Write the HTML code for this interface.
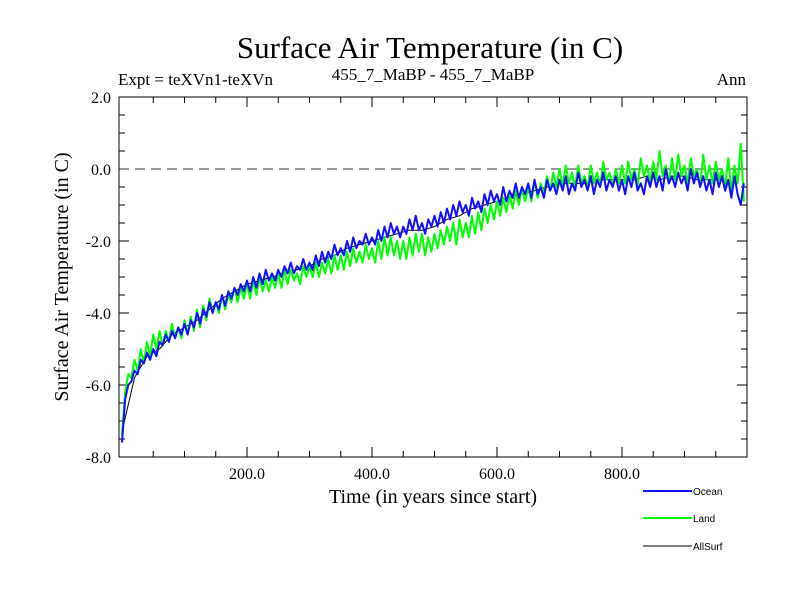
<!DOCTYPE html>
<html><head><meta charset="utf-8"><style>
body{margin:0;background:#fff}
svg{display:block}
.s{font-family:"Liberation Serif",serif;fill:#000}
.l{font-family:"Liberation Sans",sans-serif;font-size:10px;fill:#000}
</style></head><body>
<svg id="chart" width="800" height="600">
<text class="s" x="430" y="58" font-size="31" text-anchor="middle">Surface Air Temperature (in C)</text>
<text class="s" x="118" y="85" font-size="17">Expt = teXVn1-teXVn</text>
<text class="s" x="433" y="80" font-size="17" text-anchor="middle">455_7_MaBP - 455_7_MaBP</text>
<text class="s" x="746" y="85" font-size="17" text-anchor="end">Ann</text>
<text class="s" x="0" y="0" font-size="20" text-anchor="middle" transform="translate(68,277) rotate(-90)">Surface Air Temperature (in C)</text>
<text class="s" x="433" y="503" font-size="20" text-anchor="middle">Time (in years since start)</text>
<g id="ticks"></g>
<g id="plot"></g>
<rect x="119" y="97" width="628" height="360" fill="none" stroke="#000" stroke-width="1"/>
<g id="legend"></g>
</svg>
<script>
const yTicks=[2.0,0.0,-2.0,-4.0,-6.0,-8.0];
const xTicks=[200,400,600,800];
const ocean=[
-7.6,-6.4,-6.0,-5.9,-5.6,-5.7,-5.3,-5.4,-5.1,-5.3,
-5.0,-5.2,-4.8,-4.9,-4.6,-4.8,-4.5,-4.7,-4.4,-4.6,
-4.3,-4.6,-4.2,-4.4,-4.0,-4.3,-3.9,-4.1,-3.7,-4.0,
-3.7,-3.9,-3.5,-3.8,-3.4,-3.6,-3.3,-3.5,-3.2,-3.4,
-3.1,-3.4,-3.0,-3.3,-2.9,-3.2,-2.8,-3.1,-2.9,-3.1,
-2.8,-3.0,-2.7,-2.9,-2.6,-2.9,-2.7,-2.8,-2.5,-2.8,
-2.6,-2.8,-2.4,-2.7,-2.3,-2.6,-2.3,-2.5,-2.1,-2.4,
-2.2,-2.4,-2.0,-2.3,-1.9,-2.2,-2.0,-2.1,-1.8,-2.1,
-1.9,-2.1,-1.7,-2.0,-1.6,-1.9,-1.5,-1.8,-1.6,-1.9,
-1.6,-1.8,-1.4,-1.7,-1.3,-1.7,-1.5,-1.8,-1.4,-1.6,
-1.3,-1.6,-1.2,-1.5,-1.1,-1.4,-1.0,-1.3,-0.9,-1.2,
-1.0,-1.3,-0.8,-1.1,-0.9,-1.2,-0.7,-1.0,-0.6,-0.9,
-0.7,-1.0,-0.5,-0.9,-0.6,-0.8,-0.4,-0.8,-0.5,-0.7,
-0.4,-0.8,-0.3,-0.7,-0.5,-0.8,-0.3,-0.6,-0.4,-0.7,
-0.3,-0.6,-0.2,-0.7,-0.4,-0.6,-0.1,-0.5,-0.3,-0.6,
-0.2,-0.7,-0.3,-0.5,-0.1,-0.6,-0.3,-0.5,-0.2,-0.6,
-0.3,-0.7,-0.2,-0.5,-0.1,-0.6,-0.4,-0.7,-0.2,-0.5,
-0.1,-0.5,-0.2,-0.6,0.0,-0.4,-0.2,-0.5,-0.1,-0.4,
-0.2,-0.6,0.0,-0.4,-0.1,-0.5,-0.2,-0.6,-0.3,-0.7,
-0.1,-0.5,-0.2,-0.6,-0.3,-0.8,-0.2,-0.7,-1.0,-0.4];
const land=[
-7.4,-6.2,-5.7,-5.8,-5.3,-5.6,-5.0,-5.4,-4.8,-5.2,
-4.6,-5.0,-4.5,-4.9,-4.5,-4.8,-4.3,-4.7,-4.4,-4.7,
-4.2,-4.6,-4.1,-4.5,-3.9,-4.4,-3.8,-4.2,-3.6,-4.0,
-3.7,-4.0,-3.5,-3.9,-3.5,-3.7,-3.3,-3.7,-3.3,-3.6,
-3.2,-3.6,-3.1,-3.5,-3.0,-3.4,-3.1,-3.4,-3.0,-3.3,
-2.9,-3.3,-2.8,-3.2,-2.8,-3.1,-2.9,-3.2,-2.7,-3.0,
-2.7,-3.0,-2.6,-3.0,-2.6,-2.9,-2.5,-2.9,-2.4,-2.8,
-2.4,-2.8,-2.3,-2.7,-2.2,-2.6,-2.3,-2.6,-2.1,-2.5,
-2.2,-2.6,-2.0,-2.5,-1.9,-2.4,-1.9,-2.4,-2.0,-2.5,
-2.0,-2.5,-1.9,-2.4,-1.8,-2.3,-1.8,-2.4,-1.9,-2.3,
-1.8,-2.2,-1.7,-2.1,-1.6,-2.0,-1.5,-2.1,-1.4,-1.9,
-1.5,-1.9,-1.3,-1.8,-1.2,-1.7,-1.1,-1.5,-1.0,-1.4,
-0.9,-1.3,-0.8,-1.2,-0.7,-1.1,-0.6,-1.0,-0.5,-0.9,
-0.5,-0.9,-0.3,-0.8,-0.4,-0.7,-0.2,-0.6,-0.1,-0.5,
0.0,-0.5,0.1,-0.4,-0.1,-0.5,0.1,-0.4,-0.2,-0.5,
0.1,-0.4,-0.1,-0.5,0.2,-0.3,-0.1,-0.5,0.0,-0.4,
0.1,-0.4,0.2,-0.3,0.0,-0.5,0.3,-0.2,0.1,-0.4,
0.2,-0.3,0.5,-0.2,0.1,-0.4,0.3,-0.3,0.4,-0.2,
0.1,-0.4,0.3,-0.2,0.0,-0.5,0.4,-0.3,0.1,-0.4,
0.2,-0.3,0.0,-0.5,0.3,-0.6,0.1,-0.4,0.7,-0.9];
const allSurf=[
-7.3,-5.8,-5.2,-5.0,-4.6,-4.4,-4.2,-3.9,-3.6,-3.4,
-3.2,-3.1,-3.0,-2.9,-2.8,-2.7,-2.5,-2.4,-2.2,-2.1,
-2.0,-1.9,-1.8,-1.7,-1.7,-1.6,-1.4,-1.3,-1.1,-1.0,
-0.9,-0.8,-0.7,-0.6,-0.5,-0.4,-0.4,-0.4,-0.3,-0.3,
-0.3,-0.3,-0.2,-0.3,-0.2,-0.2,-0.3,-0.3,-0.3,-0.4];
const xMin=-4.8,xMax=1000,yMin=-8,yMax=2;
const L=119,R=747,T=97,B=457;
const NS="http://www.w3.org/2000/svg";
function sx(v){return L+(v-xMin)/(xMax-xMin)*(R-L);}
function sy(v){return B-(v-yMin)/(yMax-yMin)*(B-T);}
function mk(tag,attrs,parent){const e=document.createElementNS(NS,tag);for(const k in attrs)e.setAttribute(k,attrs[k]);parent.appendChild(e);return e;}
const tg=document.getElementById('ticks');
for(let v=-8;v<=2.001;v+=0.5){
 const major=Math.abs(v-Math.round(v/2)*2)<1e-6;const len=major?10:6;const y=sy(v);
 const a=mk('line',{x1:L,x2:L+len,y1:y,y2:y,stroke:'#000'},tg);
 
 
 const b=mk('line',{x1:R,x2:R-len,y1:y,y2:y,stroke:'#000'},tg);
 
 
}
for(let v=50;v<1000;v+=50){
 const major=v%200===0;const len=major?10:6;const x=sx(v);
 const a=mk('line',{x1:x,x2:x,y1:B,y2:B-len,stroke:'#000'},tg);
 
 
 const b=mk('line',{x1:x,x2:x,y1:T,y2:T+len,stroke:'#000'},tg);
 
 
}
yTicks.forEach(v=>{const t=mk('text',{x:L-8,y:sy(v)+6,'text-anchor':'end','font-size':16,class:'s'},tg);t.textContent=v.toFixed(1);
 
 });
xTicks.forEach(v=>{const t=mk('text',{x:sx(v),y:479,'text-anchor':'middle','font-size':16,class:'s'},tg);t.textContent=v.toFixed(1);
 
 });
const pg=document.getElementById('plot');
const zl=mk('line',{x1:L,x2:R,y1:sy(0),y2:sy(0),stroke:'#777','stroke-width':1.5,'stroke-dasharray':'10,6'},pg);


function series(arr,step,color,w,name){
 const pts=arr.map((v,i)=>sx(i*step)+','+sy(v)).join(' ');
 const p=mk('polyline',{points:pts,fill:'none',stroke:color,'stroke-width':w,'stroke-linejoin':'round'},pg);
 
 
}
series(allSurf,20,'#000',1,'allsurf-line');
series(land,5,'#00ff00',2,'land-line');
series(ocean,5,'#1010ff',2,'ocean-line');
const lg=document.getElementById('legend');
[['Ocean','#1010ff',2,491],['Land','#00ff00',2,518],['AllSurf','#000',1,546]].forEach(([n,c,w,y])=>{
 const ln=mk('line',{x1:643,x2:692,y1:y,y2:y,stroke:c,'stroke-width':w},lg);
 
 
 const t=mk('text',{x:693,y:y+4,class:'l'},lg);t.textContent=n;
 
 
});
</script>
</body></html>
